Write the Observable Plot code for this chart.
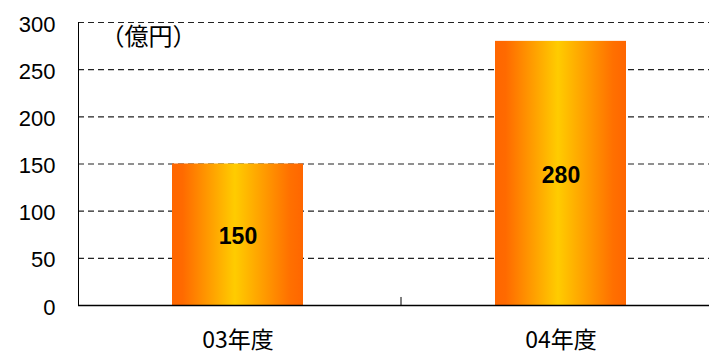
<!DOCTYPE html>
<html><head><meta charset="utf-8">
<script src="https://cdn.jsdelivr.net/npm/d3@7"></script>
<script src="https://cdn.jsdelivr.net/npm/@observablehq/plot@0.6"></script>
<style>body{margin:0;overflow:hidden;background:#fff}</style>
</head><body><div id="chart"></div>
<script>
const categories = ["03年度", "04年度"];
const values = [150, 280];
const yTicks = [0, 50, 100, 150, 200, 250, 300];
const unitLabel = "（億円）";

const data = categories.map((c, i) => ({category: c, value: values[i]}));

const chart = Plot.plot({
  width: 709, height: 355,
  marginTop: 22, marginBottom: 50, marginLeft: 78, marginRight: 0,
  style: {fontFamily: "'Liberation Sans', Arial, sans-serif", background: "#fff", overflow: "hidden"},
  x: {domain: categories, range: [76, 722], paddingInner: 0.594, paddingOuter: 0.297, label: null},
  y: {domain: [0, 300], ticks: yTicks, label: null},
  marks: [
    Plot.ruleY(yTicks.filter(d => d > 0), {stroke: "#222", strokeDasharray: "6,4", strokeWidth: 1.1}),
    Plot.barY(data, {x: "category", y: "value", fill: "url(#barGrad)"}),
    Plot.text(data, {x: "category", y: d => d.value / 2, text: d => String(d.value), dy: 2,
      fontSize: 23, fontWeight: "bold", fill: "#000"}),
    Plot.ruleY([0], {stroke: "#000", strokeWidth: 1.5}),
    Plot.ruleX([categories[0]], {x: d => d, y1: 0, y2: 8.5, dx: 163, stroke: "#000"}),
    Plot.frame({anchor: "left", stroke: "#000"}),
    Plot.axisY({ticks: yTicks, tickSize: 0, tickPadding: 23, fontSize: 22, dy: 2, fill: "#000"}),
    Plot.axisX({tickSize: 0, tickPadding: 26, fontSize: 23, fill: "#000",
      fontFamily: "'Noto Sans CJK JP', sans-serif"}),
    Plot.text([unitLabel], {frameAnchor: "top-left", dx: 22, dy: 5, fontSize: 24, fill: "#000",
      fontFamily: "'Noto Sans CJK JP', sans-serif"})
  ]
});

const defs = d3.select(chart).insert("defs", ":first-child");
const grad = defs.append("linearGradient").attr("id", "barGrad")
  .attr("x1", "0").attr("x2", "1").attr("y1", "0").attr("y2", "0");
[[0, "#FF6600"], [0.08, "#FF6A00"], [0.48, "#FFCC00"], [0.9, "#FF7000"], [1, "#FF6600"]]
  .forEach(([o, c]) => grad.append("stop").attr("offset", o).attr("stop-color", c));

document.getElementById("chart").appendChild(chart);
</script>
</body></html>
